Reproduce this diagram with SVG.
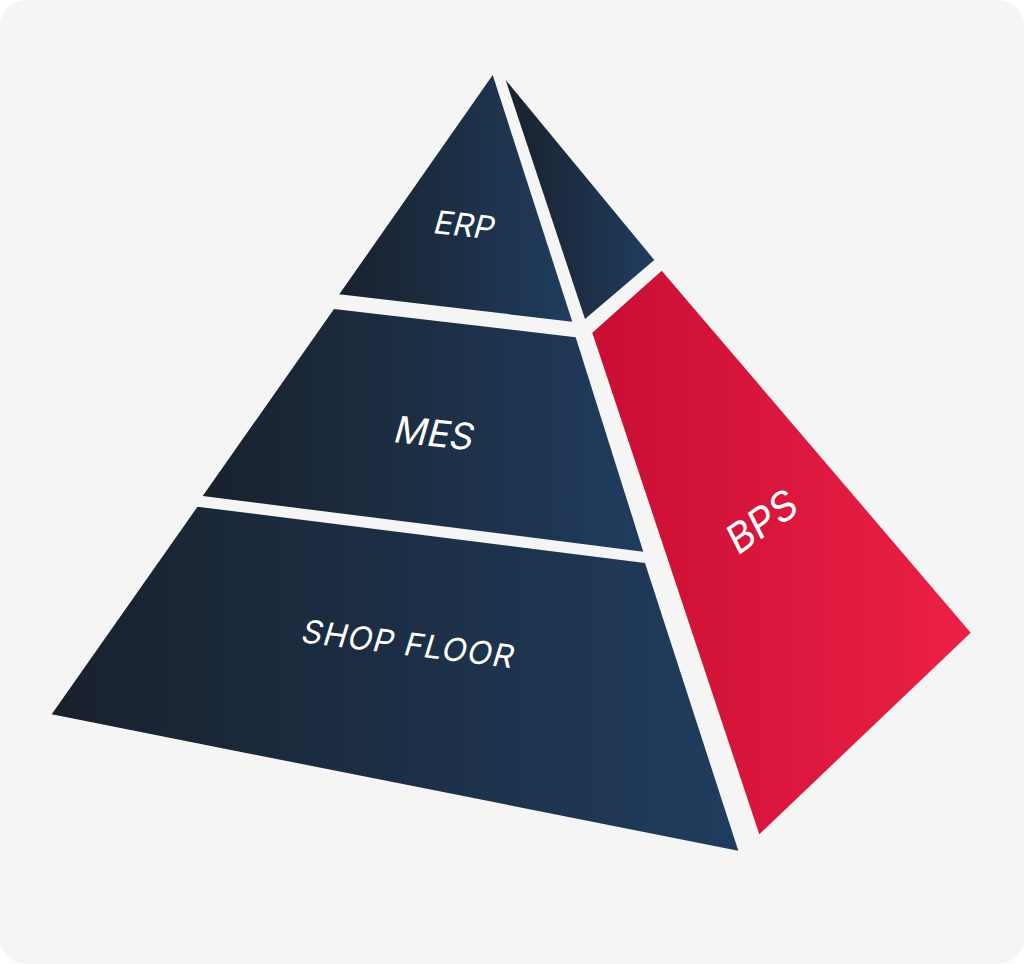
<svg xmlns="http://www.w3.org/2000/svg" width="1024" height="964" viewBox="0 0 1024 964">
<defs>
<linearGradient id="navy" x1="0" y1="0" x2="1" y2="0">
<stop offset="0" stop-color="#19212c"/>
<stop offset="1" stop-color="#203c5e"/>
</linearGradient>
<linearGradient id="red" x1="0" y1="0" x2="1" y2="0">
<stop offset="0" stop-color="#c90e33"/>
<stop offset="1" stop-color="#ec2046"/>
</linearGradient>
<style>
.navy{fill:url(#navy)}
.red{fill:url(#red)}
.lbl{font-family:Inter,"Liberation Sans",sans-serif;fill:#ffffff;text-anchor:middle;dominant-baseline:central}
</style>
</defs>
<rect x="0" y="0" width="1024" height="964" fill="#ffffff"/>
<rect x="0" y="0" width="1024" height="964" rx="26" fill="#f5f5f5"/>
<g id="erp">
<polygon class="navy" points="492.7,75 572.3,321.7 339.3,294.3"/>
<text class="lbl" x="0" y="0" font-size="32" transform="translate(465 225) rotate(6) skewX(-10)">ERP</text>
</g>
<g id="mes">
<polygon class="navy" points="334,309 575.7,337.3 643.3,551.7 202.7,496"/>
<text class="lbl" x="0" y="0" font-size="37" transform="translate(435 433) rotate(6) skewX(-10)">MES</text>
</g>
<g id="shop-floor">
<polygon class="navy" points="197.5,506.7 645,563 738.3,850.7 51.7,714.3"/>
<text class="lbl" x="0" y="0" font-size="32" letter-spacing="1" transform="translate(409 644) rotate(7) skewX(-10)">SHOP FLOOR</text>
</g>
<g id="top-right">
<polygon class="navy" points="505.7,80 654.3,260 585,319"/>
</g>
<g id="bps">
<polygon class="red" points="661.7,270.7 970.7,632.7 759.3,834.3 592.3,332.7"/>
<text class="lbl" x="0" y="0" font-size="40" transform="translate(762 521) rotate(-35) skewX(-8)">BPS</text>
</g>
<g id="connectors"/>
</svg>
